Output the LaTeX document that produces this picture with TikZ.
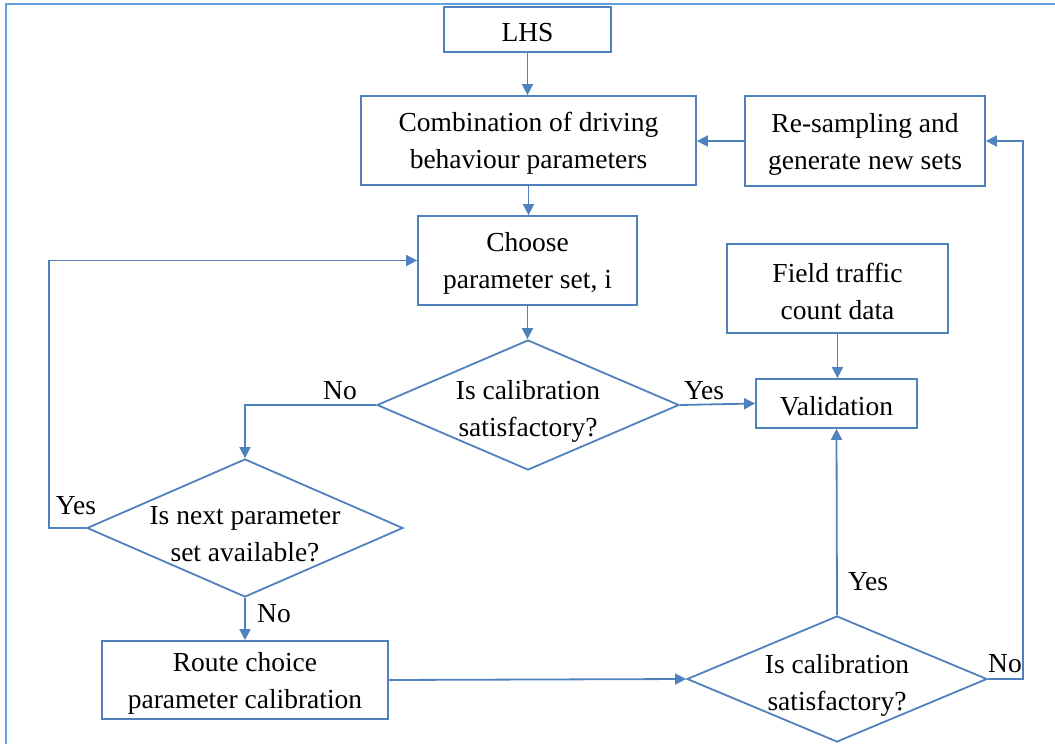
\documentclass[tikz,border=0pt]{standalone}
\usepackage{fontspec}
\setmainfont{Liberation Serif}
\usetikzlibrary{arrows.meta,shapes.geometric}
\definecolor{flow}{RGB}{79,129,189}
\definecolor{frame}{RGB}{98,160,222}
\begin{document}
\begin{tikzpicture}[x=1pt,y=-1pt,
  every node/.style={font=\fontsize{27.5}{37}\selectfont},
  box/.style={draw=flow,line width=1.8pt,rectangle,inner sep=0pt,fill=white,
    label={[align=center,yshift=-3pt,inner sep=0pt]center:{#1}}},
  dia/.style={draw=flow,line width=1.8pt,diamond,inner sep=0pt,fill=white,
    label={[align=center,yshift=-6pt,inner sep=0pt]center:{#1}}},
  conn/.style={draw=flow,line width=1.8pt},
  arr/.style={conn,-{Triangle[width=11pt,length=11pt]}},
  lab/.style={inner sep=0pt}]
\useasboundingbox (0,0) rectangle (1055,744);
\draw[frame,line width=2.4pt] (6,744) -- (6,4) -- (1055,4);

\node[box={LHS},minimum width=167pt,minimum height=45pt] (lhs) at (527.5,29.5) {};
\node[box={Combination of driving\\behaviour parameters},minimum width=335pt,minimum height=89pt] (comb) at (528.5,140.5) {};
\node[box={Re-sampling and\\generate new sets},minimum width=240pt,minimum height=90pt] (resamp) at (865,141) {};
\node[box={Choose\\parameter set, i},minimum width=219pt,minimum height=89pt] (choose) at (527.5,260.5) {};
\node[box={Field traffic\\count data},minimum width=221pt,minimum height=89pt] (field) at (837.5,288.5) {};
\node[box={Validation},minimum width=161pt,minimum height=49pt] (valid) at (836.5,403.5) {};
\node[box={Route choice\\parameter calibration},minimum width=286pt,minimum height=78pt] (route) at (245,680) {};
\node[dia={Is calibration\\satisfactory?},minimum width=302pt,minimum height=130pt] (d1) at (528,405) {};
\node[dia={Is next parameter\\set available?},minimum width=316pt,minimum height=138pt] (d2) at (245,528) {};
\node[dia={Is calibration\\satisfactory?},minimum width=300pt,minimum height=126pt] (d3) at (837,679) {};

\coordinate (cl) at (49,528);
\coordinate (cr) at (1023,679);

\draw[arr] (lhs.south) -- (lhs.south |- comb.north);
\draw[arr] (comb.south) -- (comb.south |- choose.north);
\draw[arr] (choose.south) -- (choose.south |- d1.north);
\draw[arr] (d1.west) -- (d2.north |- d1.west) -- (d2.north);
\draw[arr] (d1.east) -- (valid.west);
\draw[arr] (field.south) -- (field.south |- valid.north);
\draw[arr] (d2.west) -- (cl) -- (cl |- choose.west) -- (choose.west);
\draw[arr] (d2.south) -- (route.north);
\draw[arr] (route.east) -- (d3.west);
\draw[arr] (d3.north) -- (valid.south);
\draw[arr] (d3.east) -- (cr) -- (cr |- resamp.east) -- (resamp.east);
\draw[arr] (resamp.west) -- (resamp.west -| comb.east);

\node[lab] (no1) at (340,391) {No};
\node[lab] (yes1) at (704,391) {Yes};
\node[lab] (yes2) at (76,506) {Yes};
\node[lab] (no2) at (274,614) {No};
\node[lab] (yes3) at (868,582) {Yes};
\node[lab] (no3) at (1005,664) {No};
\end{tikzpicture}
\end{document}
